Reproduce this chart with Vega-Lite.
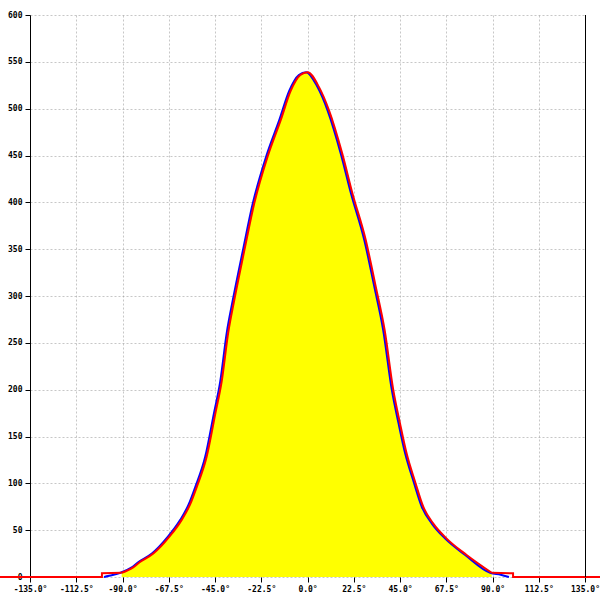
{
  "$schema": "https://vega.github.io/schema/vega-lite/v6.json",
  "width": 555,
  "height": 562,
  "autosize": "none",
  "padding": {"left": 30, "top": 15, "right": 15, "bottom": 23},
  "background": "white",
  "config": {
    "view": {"stroke": null},
    "axis": {
      "labelFont": "DejaVu Sans Mono",
      "labelFontSize": 8,
      "labelFontWeight": "bold",
      "labelColor": "black",
      "tickColor": "black",
      "tickSize": 5,
      "domainColor": "black",
      "gridColor": "#999999",
      "gridOpacity": 0.55,
      "gridDash": [2, 2],
      "title": null,
      "zindex": 1
    }
  },
  "datasets": {
    "red": [
      {"part": "left", "deg": -150, "v": 0},
      {"part": "left", "deg": -100, "v": 0},
      {"part": "left", "deg": -100, "v": 4},
      {"part": "left", "deg": -90.4, "v": 4.5},
      {"part": "curve", "deg": -90.4, "v": 4.5},
      {"part": "curve", "deg": -85, "v": 10},
      {"part": "curve", "deg": -81.5, "v": 16},
      {"part": "curve", "deg": -75, "v": 25},
      {"part": "curve", "deg": -67.2, "v": 43},
      {"part": "curve", "deg": -61.2, "v": 61},
      {"part": "curve", "deg": -57, "v": 78},
      {"part": "curve", "deg": -53.9, "v": 96},
      {"part": "curve", "deg": -49.1, "v": 128},
      {"part": "curve", "deg": -44.7, "v": 176},
      {"part": "curve", "deg": -41.8, "v": 208},
      {"part": "curve", "deg": -38.5, "v": 262},
      {"part": "curve", "deg": -35.6, "v": 296},
      {"part": "curve", "deg": -30.7, "v": 349},
      {"part": "curve", "deg": -25.9, "v": 399},
      {"part": "curve", "deg": -19.4, "v": 449},
      {"part": "curve", "deg": -13, "v": 488},
      {"part": "curve", "deg": -8.2, "v": 519},
      {"part": "curve", "deg": -3.5, "v": 536},
      {"part": "curve", "deg": 0, "v": 539},
      {"part": "curve", "deg": 5.6, "v": 523},
      {"part": "curve", "deg": 10.5, "v": 498},
      {"part": "curve", "deg": 16.9, "v": 452},
      {"part": "curve", "deg": 21.8, "v": 410},
      {"part": "curve", "deg": 28.3, "v": 360},
      {"part": "curve", "deg": 33.2, "v": 310},
      {"part": "curve", "deg": 37.5, "v": 264},
      {"part": "curve", "deg": 41.7, "v": 200},
      {"part": "curve", "deg": 45, "v": 164},
      {"part": "curve", "deg": 48.2, "v": 132},
      {"part": "curve", "deg": 52.3, "v": 102},
      {"part": "curve", "deg": 56.3, "v": 75},
      {"part": "curve", "deg": 61.2, "v": 57},
      {"part": "curve", "deg": 67.7, "v": 41},
      {"part": "curve", "deg": 77.4, "v": 23.5},
      {"part": "curve", "deg": 89.6, "v": 4.5},
      {"part": "right", "deg": 89.6, "v": 4.5},
      {"part": "right", "deg": 100, "v": 4},
      {"part": "right", "deg": 100, "v": 0},
      {"part": "right", "deg": 143, "v": 0}
    ],
    "blue": [
      {"deg": -99, "v": 0},
      {"deg": -97, "v": 1},
      {"deg": -91, "v": 4.5},
      {"deg": -85.7, "v": 10},
      {"deg": -82.2, "v": 16},
      {"deg": -75.7, "v": 25},
      {"deg": -67.9, "v": 43},
      {"deg": -61.9, "v": 61},
      {"deg": -57.7, "v": 78},
      {"deg": -54.6, "v": 96},
      {"deg": -49.8, "v": 128},
      {"deg": -45.4, "v": 176},
      {"deg": -42.5, "v": 208},
      {"deg": -39.2, "v": 262},
      {"deg": -36.3, "v": 296},
      {"deg": -31.4, "v": 349},
      {"deg": -26.6, "v": 399},
      {"deg": -20.1, "v": 449},
      {"deg": -13.7, "v": 488},
      {"deg": -8.9, "v": 519},
      {"deg": -4.2, "v": 536},
      {"deg": -0.7, "v": 539},
      {"deg": 4.9, "v": 523},
      {"deg": 9.8, "v": 498},
      {"deg": 16.2, "v": 452},
      {"deg": 21.1, "v": 410},
      {"deg": 27.6, "v": 360},
      {"deg": 32.5, "v": 310},
      {"deg": 36.8, "v": 264},
      {"deg": 41, "v": 200},
      {"deg": 44.3, "v": 164},
      {"deg": 47.5, "v": 132},
      {"deg": 51.6, "v": 102},
      {"deg": 55.6, "v": 75},
      {"deg": 60.5, "v": 57},
      {"deg": 67, "v": 41},
      {"deg": 76.7, "v": 23.5},
      {"deg": 88.9, "v": 4.5},
      {"deg": 94, "v": 2.5},
      {"deg": 98, "v": 0}
    ],
    "edge": [{"deg": 135}]
  },
  "layer": [
    {
      "data": {"name": "red"},
      "transform": [{"filter": "datum.part == 'curve'"}],
      "mark": {"type": "area", "color": "#ffff00", "opacity": 1, "interpolate": "monotone"},
      "encoding": {
        "x": {
          "field": "deg", "type": "quantitative",
          "scale": {"domain": [-135, 135], "nice": false, "zero": false},
          "axis": {
            "values": [-135, -112.5, -90, -67.5, -45, -22.5, 0, 22.5, 45, 67.5, 90, 112.5, 135],
            "labelExpr": "(datum.value < 0 ? '-' : '') + format(abs(datum.value), '.1f') + '°'",
            "domain": false,
            "labelPadding": 3,
            "labelFlush": false,
            "labelOverlap": false
          }
        },
        "y": {
          "field": "v", "type": "quantitative",
          "scale": {"domain": [0, 600], "nice": false},
          "axis": {
            "values": [0, 50, 100, 150, 200, 250, 300, 350, 400, 450, 500, 550, 600],
            "format": "d",
            "labelPadding": 3,
            "labelFlush": false,
            "labelOverlap": false
          }
        }
      }
    },
    {
      "data": {"name": "blue"},
      "mark": {"type": "line", "color": "#0000ff", "strokeWidth": 2, "clip": false, "interpolate": "monotone"},
      "encoding": {
        "x": {"field": "deg", "type": "quantitative"},
        "y": {"field": "v", "type": "quantitative"}
      }
    },
    {
      "data": {"name": "red"},
      "transform": [{"filter": "datum.part == 'curve'"}],
      "mark": {"type": "line", "color": "#ff0000", "strokeWidth": 2, "clip": false, "interpolate": "monotone"},
      "encoding": {
        "x": {"field": "deg", "type": "quantitative"},
        "y": {"field": "v", "type": "quantitative"}
      }
    },
    {
      "data": {"name": "red"},
      "transform": [{"filter": "datum.part != 'curve'"}],
      "mark": {"type": "line", "color": "#ff0000", "strokeWidth": 2, "clip": false},
      "encoding": {
        "x": {"field": "deg", "type": "quantitative"},
        "y": {"field": "v", "type": "quantitative"},
        "detail": {"field": "part", "type": "nominal"},
        "order": {"value": null}
      }
    },
    {
      "data": {"name": "edge"},
      "mark": {"type": "rule", "color": "black", "strokeWidth": 1, "xOffset": 0.5},
      "encoding": {
        "x": {"field": "deg", "type": "quantitative"}
      }
    }
  ]
}
